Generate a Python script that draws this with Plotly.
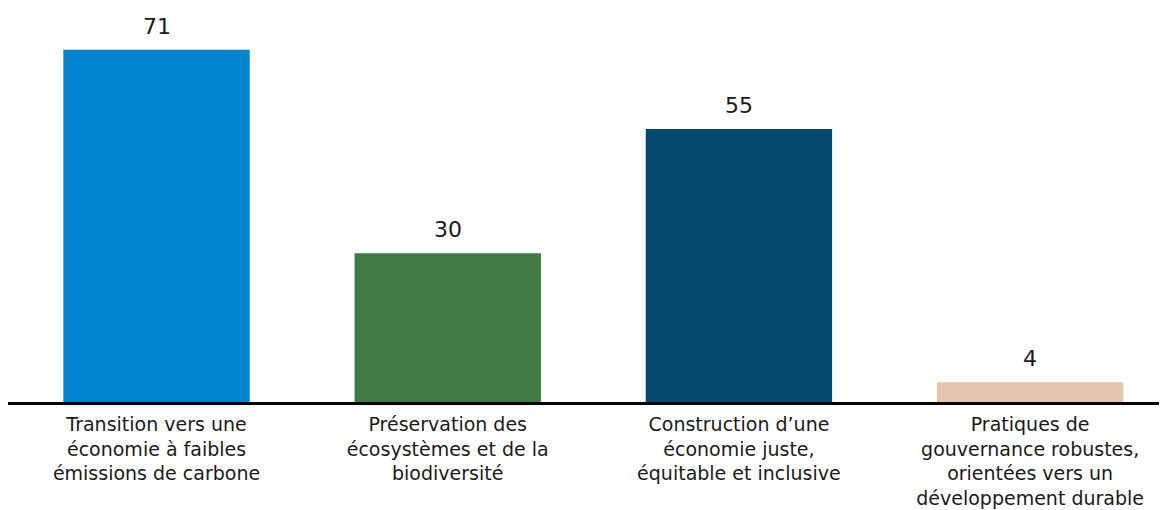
import plotly.graph_objects as go

categories = [
    "Transition vers une<br>économie à faibles<br>émissions de carbone",
    "Préservation des<br>écosystèmes et de la<br>biodiversité",
    "Construction d’une<br>économie juste,<br>équitable et inclusive",
    "Pratiques de<br>gouvernance robustes,<br>orientées vers un<br>développement durable",
]
values = [71, 30, 55, 4]
colors = ["#0084CF", "#427A46", "#02486F", "#E3C4AF"]
positions = [0, 1, 2, 3]

FONT = "DejaVu Sans, sans-serif"

fig = go.Figure()
fig.add_trace(go.Bar(
    x=positions, y=values, marker=dict(color=colors, line=dict(width=0)),
    width=0.64, hoverinfo="skip",
))
for xp, v in zip(positions, values):
    fig.add_annotation(x=xp, y=v, text=str(v), showarrow=False, yanchor="bottom",
                       yshift=9, font=dict(family=FONT, size=22, color="#1a1a1a"))

# page body has an 8px default margin, so the figure is drawn from (8, 8)
fig.update_layout(
    width=1159, height=502,
    margin=dict(l=0, r=0, t=2, b=108, autoexpand=False),
    plot_bgcolor="white", paper_bgcolor="white",
    showlegend=False,
    font=dict(family=FONT, color="#1a1a1a"),
)
fig.update_xaxes(
    range=[-0.51, 3.47], tickmode="array", tickvals=positions, ticktext=categories,
    showline=True, linecolor="black", linewidth=3, showgrid=False, zeroline=False,
    ticks="", tickfont=dict(size=19, color="#1a1a1a"), ticklabelstandoff=3,
    automargin=False,
)
fig.update_yaxes(range=[0, 79.0], visible=False, automargin=False)

fig.write_html("out.html")
